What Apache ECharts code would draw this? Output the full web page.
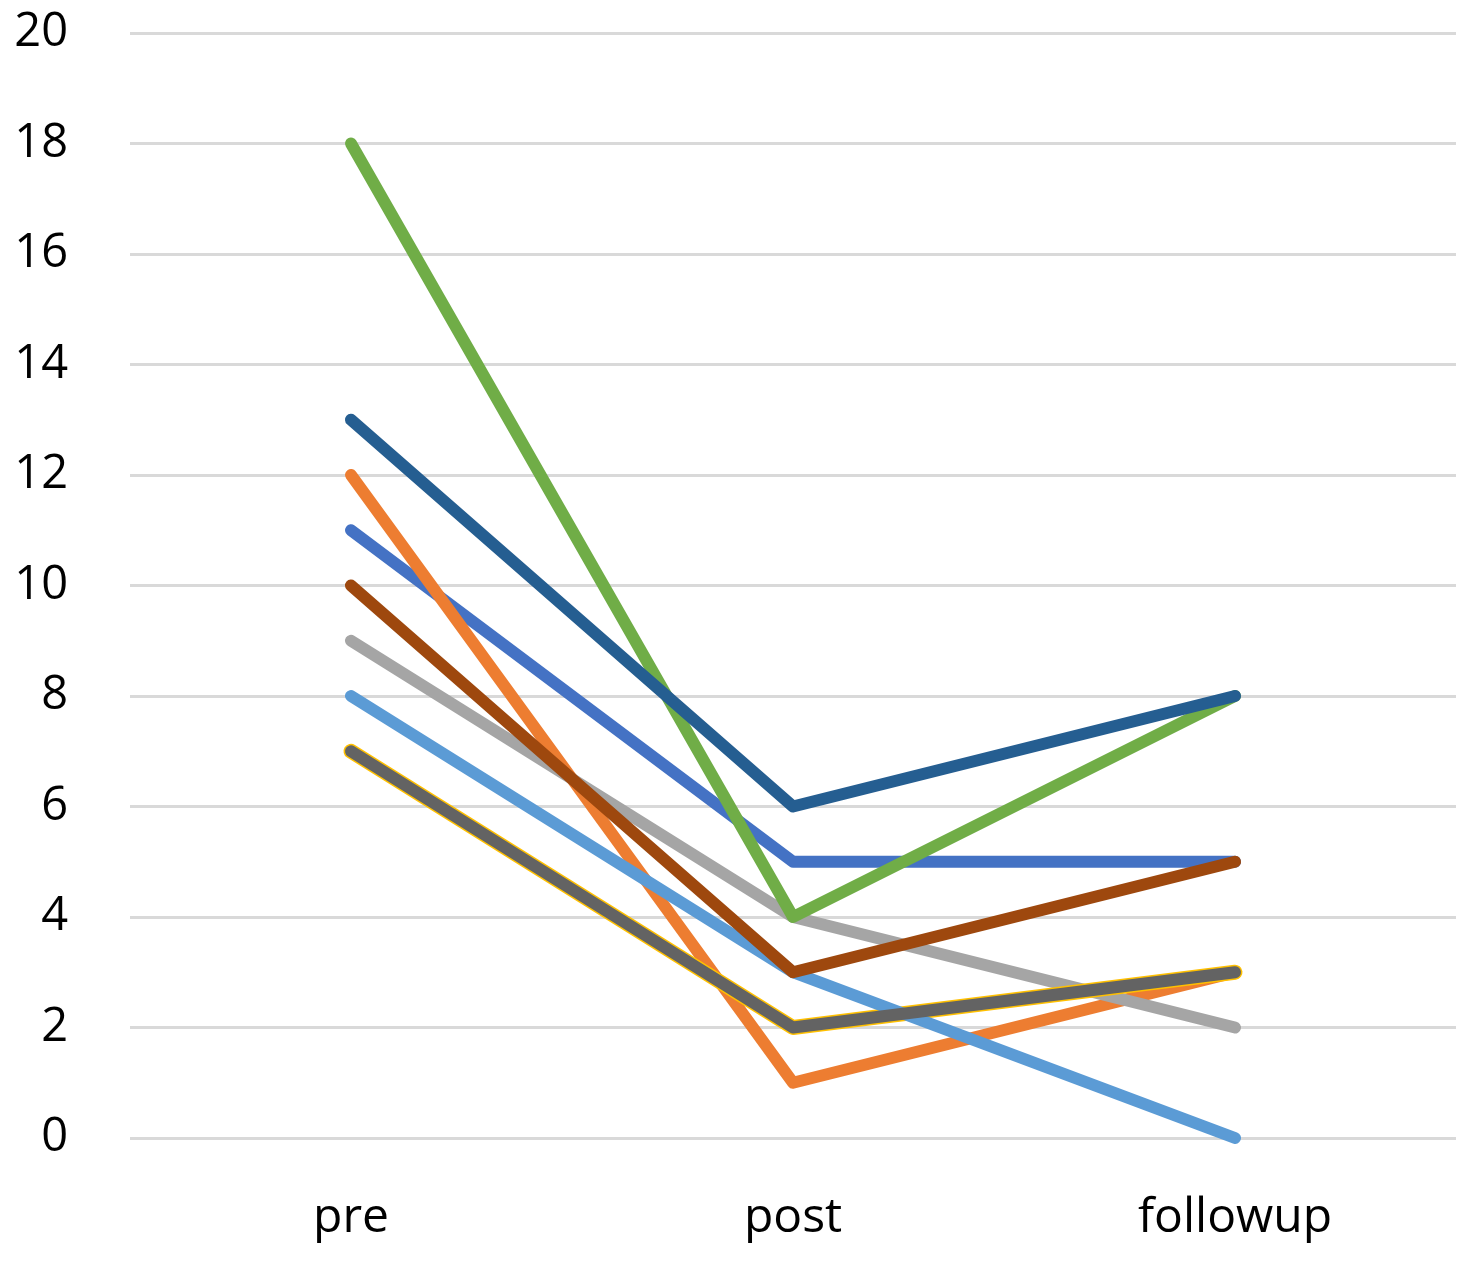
<!DOCTYPE html>
<html>
<head>
<meta charset="utf-8">
<script src="https://cdn.jsdelivr.net/npm/echarts@6/dist/echarts.min.js"></script>
<style>
html,body{margin:0;padding:0;background:#fff;}
#chart{width:1463px;height:1262px;}
</style>
</head>
<body>
<div id="chart"></div>
<script>
const categories = ['pre', 'post', 'followup'];
const yTicks = [0, 2, 4, 6, 8, 10, 12, 14, 16, 18, 20];
const series1 = [11, 5, 5];
const series2 = [12, 1, 3];
const series3 = [9, 4, 2];
const series4 = [7, 2, 3];
const series5 = [8, 3, 0];
const series6 = [18, 4, 8];
const series7 = [13, 6, 8];
const series8 = [10, 3, 5];
const series9 = [7, 2, 3];

const seriesList = [
  {name: 'S1', data: series1, color: '#4472C4', width: 12},
  {name: 'S2', data: series2, color: '#ED7D31', width: 12},
  {name: 'S3', data: series3, color: '#A5A5A5', width: 12},
  {name: 'S4', data: series4, color: '#FFC000', width: 15},
  {name: 'S5', data: series5, color: '#5B9BD5', width: 12},
  {name: 'S6', data: series6, color: '#70AD47', width: 12},
  {name: 'S7', data: series7, color: '#255E91', width: 12},
  {name: 'S8', data: series8, color: '#9E480E', width: 12},
  {name: 'S9', data: series9, color: '#636363', width: 12}
];

const chart = echarts.init(document.getElementById('chart'));
chart.setOption({
  animation: false,
  backgroundColor: '#ffffff',
  grid: {left: 130, right: 7, top: 33, bottom: 124},
  xAxis: {
    type: 'category',
    data: categories,
    boundaryGap: true,
    axisLine: {show: false},
    axisTick: {show: false},
    axisLabel: {color: '#000', fontSize: 48, fontFamily: '"Open Sans", Lato, sans-serif', margin: 56}
  },
  yAxis: {
    type: 'value',
    min: 0, max: 20, interval: 2,
    axisLine: {show: false},
    axisTick: {show: false},
    axisLabel: {color: '#000', fontSize: 47, fontFamily: '"Open Sans", Lato, sans-serif', margin: 62,
      formatter: v => yTicks.includes(v) ? String(v) : ''},
    splitLine: {lineStyle: {color: '#d9d9d9', width: 3}}
  },
  series: seriesList.map(s => ({
    name: s.name,
    type: 'line',
    data: s.data,
    symbol: 'none',
    lineStyle: {color: s.color, width: s.width, cap: 'round', join: 'round'},
    itemStyle: {color: s.color}
  }))
});
</script>
</body>
</html>
